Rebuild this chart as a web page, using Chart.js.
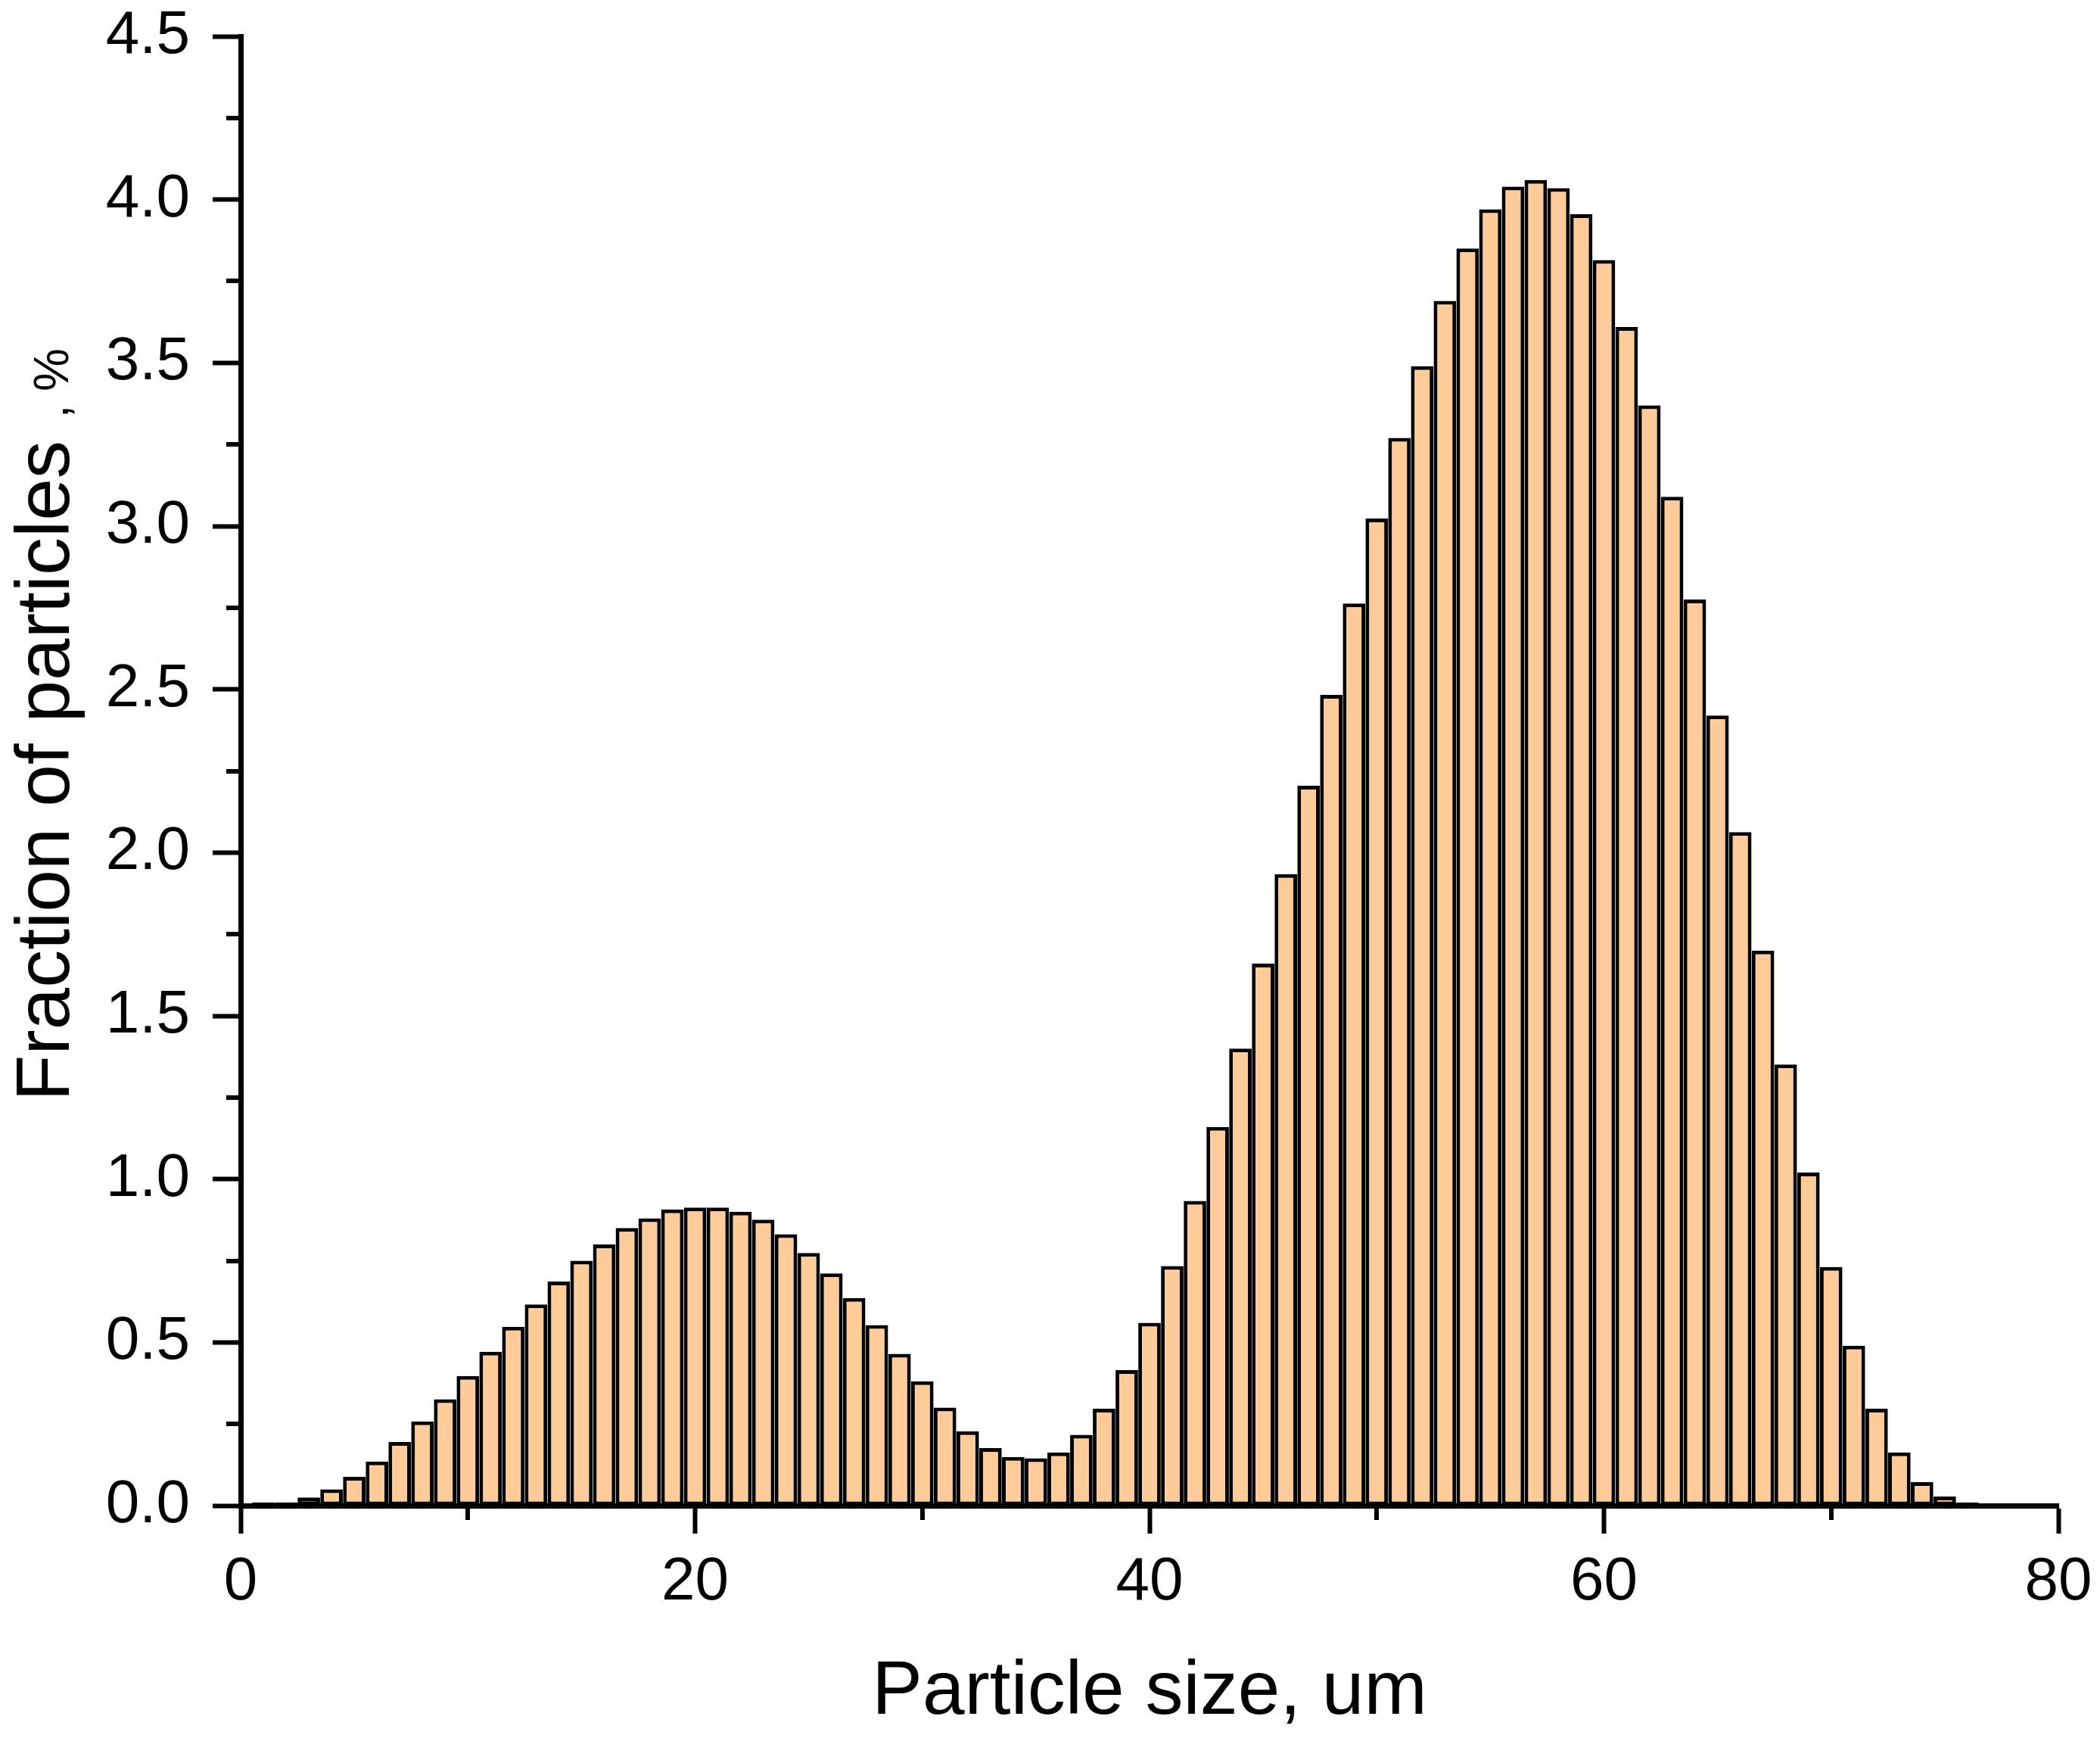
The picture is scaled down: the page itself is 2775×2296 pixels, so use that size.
<!DOCTYPE html>
<html>
<head>
<meta charset="utf-8">
<script src="https://cdn.jsdelivr.net/npm/chart.js@4.4.1/dist/chart.umd.min.js"></script>
<style>
  html, body { margin: 0; padding: 0; background: #fff; }
  #wrap { width: 2775px; height: 2296px; position: relative; }
</style>
</head>
<body>
<div id="wrap"><canvas id="sizeChart"></canvas></div>
<script>
// Particle size bins (um)
const sizes = [
    1, 2, 3, 4, 5, 6, 7, 8, 9, 10,
    11, 12, 13, 14, 15, 16, 17, 18, 19, 20,
    21, 22, 23, 24, 25, 26, 27, 28, 29, 30,
    31, 32, 33, 34, 35, 36, 37, 38, 39, 40,
    41, 42, 43, 44, 45, 46, 47, 48, 49, 50,
    51, 52, 53, 54, 55, 56, 57, 58, 59, 60,
    61, 62, 63, 64, 65, 66, 67, 68, 69, 70,
    71, 72, 73, 74, 75, 76, 77
];
// Fraction of particles, %
const fractions = [
    0.01, 0.01, 0.025, 0.05, 0.088, 0.135, 0.195, 0.258, 0.326, 0.397,
    0.471, 0.548, 0.616, 0.686, 0.75, 0.80, 0.85, 0.88, 0.907, 0.913,
    0.913, 0.90, 0.876, 0.831, 0.774, 0.711, 0.636, 0.553, 0.465, 0.381,
    0.30, 0.228, 0.176, 0.149, 0.145, 0.163, 0.217, 0.297, 0.415, 0.56,
    0.734, 0.933, 1.16, 1.40, 1.66, 1.934, 2.205, 2.483, 2.763, 3.023,
    3.27, 3.49, 3.69, 3.85, 3.97, 4.04, 4.06, 4.035, 3.955, 3.815,
    3.61, 3.37, 3.09, 2.775, 2.42, 2.063, 1.70, 1.351, 1.02, 0.731,
    0.49, 0.297, 0.163, 0.072, 0.028, 0.01, 0.004
];
// Axis ticks
const yMajorTicks = [0, 0.5, 1, 1.5, 2, 2.5, 3, 3.5, 4, 4.5];
const yMinorTicks = [0.25, 0.75, 1.25, 1.75, 2.25, 2.75, 3.25, 3.75, 4.25];
const xMajorTicks = [0, 20, 40, 60, 80];
const xMinorTicks = [10, 30, 50, 70];

const FONT = "'Liberation Sans', Arial, sans-serif";

// short minor ticks + the small ", %" after the y title
const extras = {
    id: 'extras',
    afterDraw(chart) {
        const ctx = chart.ctx;
        const x = chart.scales.x, y = chart.scales.y;
        const area = chart.chartArea;
        ctx.save();
        ctx.strokeStyle = '#000';
        ctx.lineWidth = 6;
        ctx.beginPath();
        yMinorTicks.forEach(v => {
            const py = Math.round(y.getPixelForValue(v));
            ctx.moveTo(area.left, py);
            ctx.lineTo(area.left - 19, py);
        });
        xMinorTicks.forEach(v => {
            const px = Math.round(x.getPixelForValue(v));
            ctx.moveTo(px, area.bottom);
            ctx.lineTo(px, area.bottom + 19);
        });
        ctx.stroke();

        // y title suffix
        const mid = (area.top + area.bottom) / 2;
        ctx.translate(90, mid);
        ctx.rotate(-Math.PI / 2);
        ctx.fillStyle = '#000';
        ctx.font = '64px ' + FONT;
        ctx.textAlign = 'left';
        ctx.textBaseline = 'alphabetic';
        ctx.fillText(', %', 466, 0);
        ctx.restore();
    }
};

new Chart(document.getElementById('sizeChart'), {
    type: 'bar',
    data: {
        datasets: [{
            data: sizes.map((s, i) => ({ x: s, y: fractions[i] })),
            backgroundColor: '#FFCC99',
            borderColor: '#000',
            borderWidth: 5,
            borderSkipped: false,
            categoryPercentage: 1,
            barPercentage: 0.99
        }]
    },
    options: {
        responsive: true,
        maintainAspectRatio: false,
        animation: false,
        devicePixelRatio: 1,
        layout: { padding: { top: 48, right: 55, bottom: 0, left: 0 } },
        plugins: {
            legend: { display: false },
            tooltip: { enabled: false }
        },
        scales: {
            x: {
                type: 'linear',
                offset: false,
                min: 0,
                max: 80,
                z: 1,
                afterBuildTicks: axis => { axis.ticks = xMajorTicks.map(v => ({ value: v })); },
                afterFit: axis => {
                    axis.height = 307;
                    axis.paddingLeft = 0;
                    axis.paddingRight = 0;
                },
                grid: { display: true, offset: false, drawOnChartArea: false, drawTicks: true, tickLength: 37, tickWidth: 6, tickColor: '#000' },
                border: { display: true, color: '#000', width: 7 },
                ticks: {
                    color: '#000',
                    padding: 17,
                    maxRotation: 0,
                    font: { family: FONT, size: 80 },
                    callback: v => String(v)
                },
                title: {
                    display: true,
                    text: 'Particle size, um',
                    color: '#000',
                    font: { family: FONT, size: 100 },
                    padding: { top: 0, bottom: 0 }
                }
            },
            y: {
                min: 0,
                max: 4.5,
                z: 1,
                afterBuildTicks: axis => { axis.ticks = yMajorTicks.map(v => ({ value: v })); },
                afterFit: axis => {
                    axis.width = 318;
                    axis.paddingTop = 0;
                    axis.paddingBottom = 0;
                },
                grid: { display: true, offset: false, drawOnChartArea: false, drawTicks: true, tickLength: 37, tickWidth: 6, tickColor: '#000' },
                border: { display: true, color: '#000', width: 7 },
                ticks: {
                    color: '#000',
                    padding: 30,
                    font: { family: FONT, size: 80 },
                    callback: v => v.toFixed(1)
                },
                title: {
                    display: true,
                    text: 'Fraction of particles',
                    color: '#000',
                    font: { family: FONT, size: 100 },
                    padding: { top: 3, bottom: 0 }
                }
            }
        }
    },
    plugins: [extras]
});
</script>
</body>
</html>
